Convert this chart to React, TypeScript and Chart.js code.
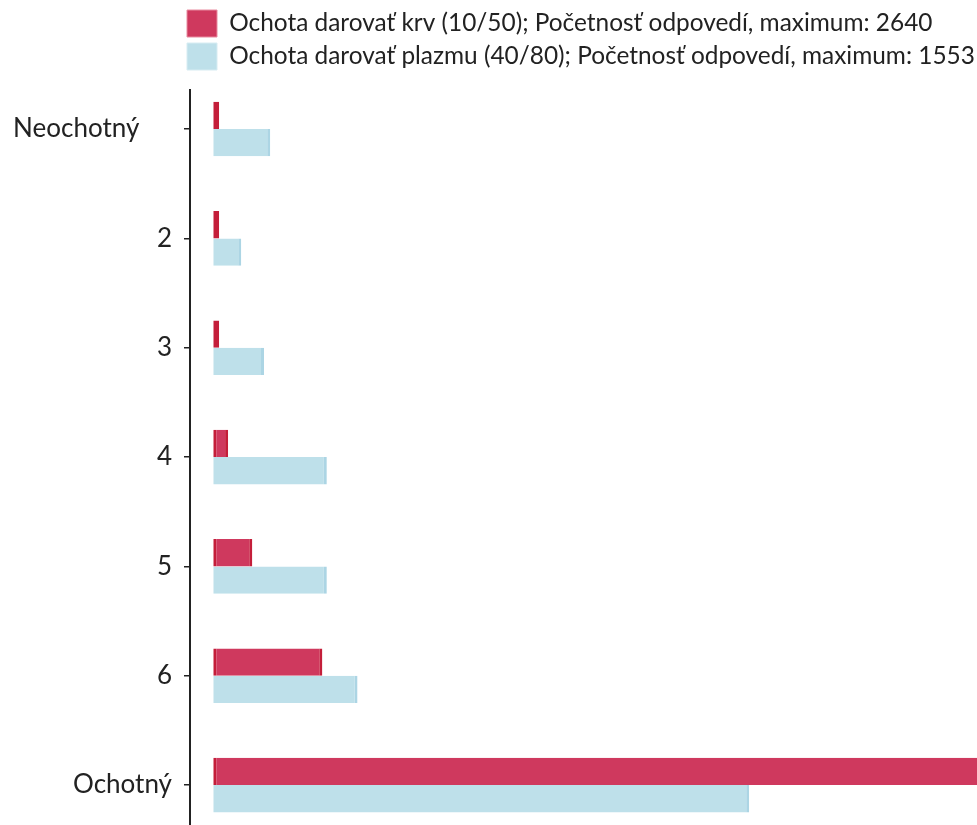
import React, { useEffect, useRef } from 'react';
import { Chart, registerables } from 'chart.js';

Chart.register(...registerables);

const categories = ['Neochotný', '2', '3', '4', '5', '6', 'Ochotný'];
const bloodValues = [17, 17, 17, 43, 113, 316, 2640];
const plasmaValues = [165, 81, 147, 329, 329, 418, 1553];
const seriesLabels = [
  'Ochota darovať krv (10/50); Početnosť odpovedí, maximum: 2640',
  'Ochota darovať plazmu (40/80); Početnosť odpovedí, maximum: 1553',
];

const FONT = 'Lato';
const TEXT = '#222222';

const legendShift = {
  id: 'legendShift',
  afterLayout(chart: any) {
    if (chart.legend) {
      chart.legend.left = chart.chartArea.left - 9;
    }
  },
};

export default function App() {
  const ref = useRef<HTMLCanvasElement | null>(null);

  useEffect(() => {
    if (!ref.current) return;
    const chart = new Chart(ref.current, {
      type: 'bar',
      data: {
        datasets: [
          {
            label: seriesLabels[0],
            data: bloodValues.map((v, i) => ({ x: v, y: i })),
            backgroundColor: 'rgb(207,57,94)',
            borderColor: 'rgb(196,30,58)',
            borderWidth: { left: 3, right: 3, top: 0, bottom: 0 },
            borderSkipped: false,
          },
          {
            label: seriesLabels[1],
            data: plasmaValues.map((v, i) => ({ x: v, y: i })),
            backgroundColor: 'rgb(190,224,234)',
            borderColor: 'rgb(172,213,228)',
            borderWidth: { left: 0, right: 3, top: 0, bottom: 0 },
            borderSkipped: false,
          },
        ] as any,
      },
      options: {
        animation: false,
        responsive: true,
        maintainAspectRatio: false,
        indexAxis: 'y',
        layout: { padding: 0 },
        datasets: { bar: { categoryPercentage: 0.5, barPercentage: 1 } } as any,
        scales: {
          x: {
            type: 'linear',
            position: 'top',
            min: -67.5,
            max: 2700,
            grid: { display: false },
            ticks: { display: false },
            border: { display: false },
            afterFit: (s: any) => {
              s.height = 10;
              s.paddingLeft = 0;
              s.paddingRight = 0;
            },
          },
          y: {
            type: 'linear',
            reverse: true,
            offset: false,
            min: -0.357,
            max: 6.365,
            afterBuildTicks: (s: any) => {
              s.ticks = categories.map((_, i) => ({ value: i }));
            },
            afterFit: (s: any) => {
              s.width = 182;
              s.paddingTop = 0;
              s.paddingBottom = 0;
            },
            ticks: {
              padding: 12,
              color: TEXT,
              font: { family: FONT, size: 26 },
              callback: (v: any) =>
                (categories[v] ?? '') + (v === 0 ? '\u00A0'.repeat(5) : ''),
            },
            grid: {
              offset: false,
              drawOnChartArea: false,
              drawTicks: true,
              tickLength: 6,
              color: TEXT,
              lineWidth: 1.5,
            },
            border: { display: true, color: TEXT, width: 2 },
          },
        } as any,
        plugins: {
          legend: {
            position: 'top',
            align: 'start',
            labels: {
              boxWidth: 30,
              boxHeight: 27,
              padding: 6,
              color: TEXT,
              font: { family: FONT, size: 24.4 },
              generateLabels: (c: any) => {
                const items = (Chart.defaults.plugins.legend.labels as any).generateLabels(c);
                const strokes = ['rgb(232,140,160)', 'rgb(215,236,242)'];
                items.forEach((it: any, i: number) => {
                  it.strokeStyle = strokes[i];
                  it.lineWidth = 1;
                });
                return items;
              },
            },
          },
          tooltip: { enabled: false },
        },
      },
      plugins: [legendShift],
    });
    return () => chart.destroy();
  }, []);

  return (
    <div style={{ position: 'fixed', left: 0, top: 0, right: 0, bottom: 0, overflow: 'hidden', background: '#fff' }}>
      <div style={{ position: 'absolute', left: 8, top: 4, width: 1137, height: 821 }}>
        <canvas ref={ref} />
      </div>
    </div>
  );
}
